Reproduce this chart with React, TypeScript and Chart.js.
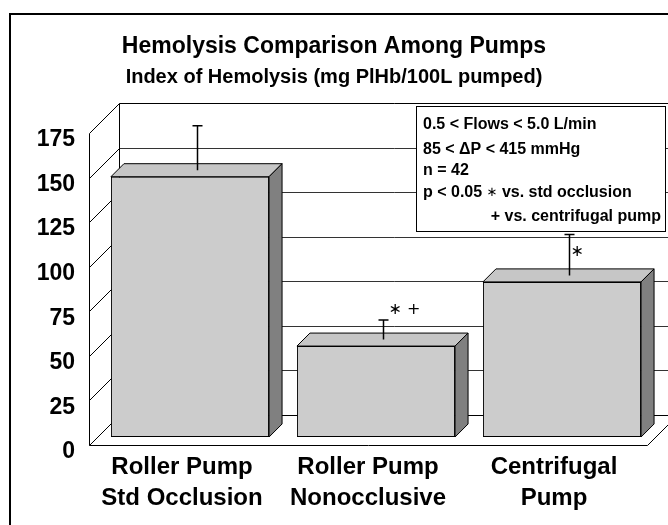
import React, { useEffect, useRef } from 'react';
import { Chart, registerables } from 'chart.js';

Chart.register(...registerables);

// ---------- data ----------
const categories: string[][] = [
  ['Roller Pump', 'Std Occlusion'],
  ['Roller Pump', 'Nonocclusive'],
  ['Centrifugal', 'Pump'],
];
const meanValues = [146, 51, 87];
const errorValues = [25, 11, 23];
const significanceMarks = ['', '\u2217 +', '\u2217'];
const yTicks = [0, 25, 50, 75, 100, 125, 150, 175];
const titleText = 'Hemolysis Comparison Among Pumps';
const subtitleText = 'Index of Hemolysis (mg PlHb/100L pumped)';
// each note line is a list of [text, isSymbol] runs
const noteLines: [string, boolean][][] = [
  [['0.5 < Flows < 5.0 L/min', false]],
  [['85 < \u0394P < 415 mmHg', false]],
  [['n = 42', false]],
  [['p < 0.05 ', false], ['\u2217', true], [' vs. std occlusion', false]],
  [['+', false], [' vs. centrifugal pump', false]],
];

// ---------- layout / style ----------
const W = 668;
const H = 525;
const FONT = '"Liberation Sans", Arial, sans-serif';
const DF = -8; // front (axis) plane depth relative to bar front plane
const DB = 22; // back wall depth
const BD = 13; // bar depth
const markOffsets = [
  [0, 0],
  [13, -10],
  [9, 17],
];
const BOX = { x: 416, y: 106, w: 249, h: 125 };
const notePos = [
  { x: 423, y: 125, align: 'left' },
  { x: 423, y: 150, align: 'left' },
  { x: 423, y: 171, align: 'left' },
  { x: 423, y: 193, align: 'left' },
  { x: 661, y: 217, align: 'right' },
];

const pseudo3d = {
  id: 'pseudo3d',
  beforeDatasetsDraw(chart: any) {
    const { ctx, chartArea, scales } = chart;
    const xs = scales.x;
    const ys = scales.y;
    const left = chartArea.left;
    const right = chartArea.right;
    const yv = (v: number) => ys.getPixelForValue(v);
    const yMin = yTicks[0];
    const yMax = yTicks[yTicks.length - 1];
    ctx.save();
    ctx.fillStyle = '#ffffff';
    ctx.fillRect(0, 0, W, H);

    ctx.strokeStyle = '#000';
    ctx.lineWidth = 1;
    const line = (x1: number, y1: number, x2: number, y2: number) => {
      ctx.beginPath();
      ctx.moveTo(Math.round(x1) + 0.5, Math.round(y1) + 0.5);
      ctx.lineTo(Math.round(x2) + 0.5, Math.round(y2) + 0.5);
      ctx.stroke();
    };
    // back wall gridlines
    yTicks.forEach((v) => {
      ctx.strokeStyle = v === yMin || v === yMax ? '#000' : '#333';
      line(left + DB, yv(v) - DB, right + DB, yv(v) - DB);
    });
    ctx.strokeStyle = '#000';
    // back wall left edge
    line(left + DB, yv(yMin) - DB, left + DB, yv(yMax) - DB);
    // side wall diagonals
    yTicks.forEach((v) => {
      line(left + DF, yv(v) - DF, left + DB, yv(v) - DB);
    });
    // front axis
    line(left + DF, yv(yMin) - DF, left + DF, yv(yMax) - DF);
    // floor
    line(left + DF, yv(yMin) - DF, right + DF, yv(yMin) - DF);
    line(right + DF, yv(yMin) - DF, right + DB, yv(yMin) - DB);

    // tick labels
    ctx.fillStyle = '#000';
    ctx.font = `bold 23px ${FONT}`;
    ctx.textAlign = 'right';
    ctx.textBaseline = 'middle';
    yTicks.forEach((v) => {
      ctx.fillText(String(v), left + DF - 14, yv(v) - DF + 7);
    });

    // category labels
    ctx.textAlign = 'center';
    ctx.font = `bold 24px ${FONT}`;
    categories.forEach((lines, i) => {
      const cx = xs.getPixelForValue(i) + DF;
      lines.forEach((t, j) => {
        ctx.fillText(t, cx, yv(yMin) - DF + 22 + j * 31);
      });
    });

    // titles
    ctx.font = `bold 23px ${FONT}`;
    ctx.fillText(titleText, W / 2, 47);
    ctx.font = `bold 20px ${FONT}`;
    ctx.fillText(subtitleText, W / 2, 77);
    ctx.restore();
  },
  afterDatasetsDraw(chart: any) {
    const { ctx, scales } = chart;
    const ys = scales.y;
    const meta = chart.getDatasetMeta(0);
    ctx.save();
    ctx.strokeStyle = '#000';
    ctx.lineWidth = 1;
    meta.data.forEach((el: any, i: number) => {
      const p = el.getProps(['x', 'y', 'base', 'width'], true);
      const L = p.x - p.width / 2;
      const R = p.x + p.width / 2;
      const top = p.y;
      const bot = p.base;
      // top face
      ctx.beginPath();
      ctx.moveTo(L, top);
      ctx.lineTo(R, top);
      ctx.lineTo(R + BD, top - BD);
      ctx.lineTo(L + BD, top - BD);
      ctx.closePath();
      ctx.fillStyle = '#c6c6c6';
      ctx.fill();
      ctx.stroke();
      // side face
      ctx.beginPath();
      ctx.moveTo(R, top);
      ctx.lineTo(R + BD, top - BD);
      ctx.lineTo(R + BD, bot - BD);
      ctx.lineTo(R, bot);
      ctx.closePath();
      ctx.fillStyle = '#808080';
      ctx.fill();
      ctx.stroke();
      // error bar
      const ex = Math.round(p.x + BD / 2) + 0.5;
      const eBase = top - BD / 2;
      const eTop = ys.getPixelForValue(meanValues[i] + errorValues[i]) - BD / 2;
      ctx.lineWidth = 1.5;
      ctx.beginPath();
      ctx.moveTo(ex, eBase);
      ctx.lineTo(ex, eTop);
      ctx.moveTo(ex - 5, eTop);
      ctx.lineTo(ex + 5, eTop);
      ctx.stroke();
      ctx.lineWidth = 1;
      // significance marks
      const mark = significanceMarks[i];
      if (mark) {
        ctx.fillStyle = '#000';
        ctx.font = `16px "DejaVu Sans", sans-serif`;
        ctx.textAlign = 'left';
        ctx.textBaseline = 'middle';
        ctx.fillText(mark, ex + markOffsets[i][0] - 8, eTop + markOffsets[i][1]);
      }
    });

    // notes box
    ctx.fillStyle = '#fff';
    ctx.fillRect(BOX.x, BOX.y, BOX.w, BOX.h);
    ctx.strokeRect(BOX.x + 0.5, BOX.y + 0.5, BOX.w, BOX.h);
    ctx.fillStyle = '#000';
    ctx.textBaseline = 'middle';
    const boldFont = `bold 16px ${FONT}`;
    const symFont = `13px "DejaVu Sans", sans-serif`;
    noteLines.forEach((runs, i) => {
      const np = notePos[i];
      let total = 0;
      runs.forEach(([t, sym]) => {
        ctx.font = sym ? symFont : boldFont;
        total += ctx.measureText(t).width;
      });
      let x = np.align === 'right' ? np.x - total : np.x;
      ctx.textAlign = 'left';
      runs.forEach(([t, sym]) => {
        ctx.font = sym ? symFont : boldFont;
        ctx.fillText(t, x, np.y);
        x += ctx.measureText(t).width;
      });
    });

    // outer frame
    ctx.lineWidth = 2;
    ctx.strokeRect(10, 14, W + 10, H + 10);
    ctx.restore();
  },
};

export default function App() {
  const ref = useRef<HTMLCanvasElement | null>(null);
  useEffect(() => {
    if (!ref.current) return;
    const chart = new Chart(ref.current, {
      type: 'bar',
      data: {
        labels: categories as any,
        datasets: [
          {
            data: meanValues,
            backgroundColor: '#cccccc',
            borderColor: '#000000',
            borderWidth: 1,
            borderSkipped: false,
            barPercentage: 0.85,
            categoryPercentage: 1,
          },
        ],
      },
      options: {
        animation: false,
        responsive: false,
        devicePixelRatio: 1,
        events: [],
        layout: { padding: { left: 97, right: 13, top: 125, bottom: 88 } },
        scales: {
          x: { type: 'category', display: false, offset: true, grid: { display: false } },
          y: { type: 'linear', display: false, min: 0, max: 175, grid: { display: false } },
        },
        plugins: {
          legend: { display: false },
          tooltip: { enabled: false },
          title: { display: false },
        },
      },
      plugins: [pseudo3d],
    });
    return () => chart.destroy();
  }, []);
  return (
    <div style={{ position: 'fixed', left: 0, top: 0, width: W, height: H, overflow: 'hidden', background: '#fff' }}>
      <canvas ref={ref} width={W} height={H} style={{ display: 'block', width: W, height: H }} />
    </div>
  );
}
